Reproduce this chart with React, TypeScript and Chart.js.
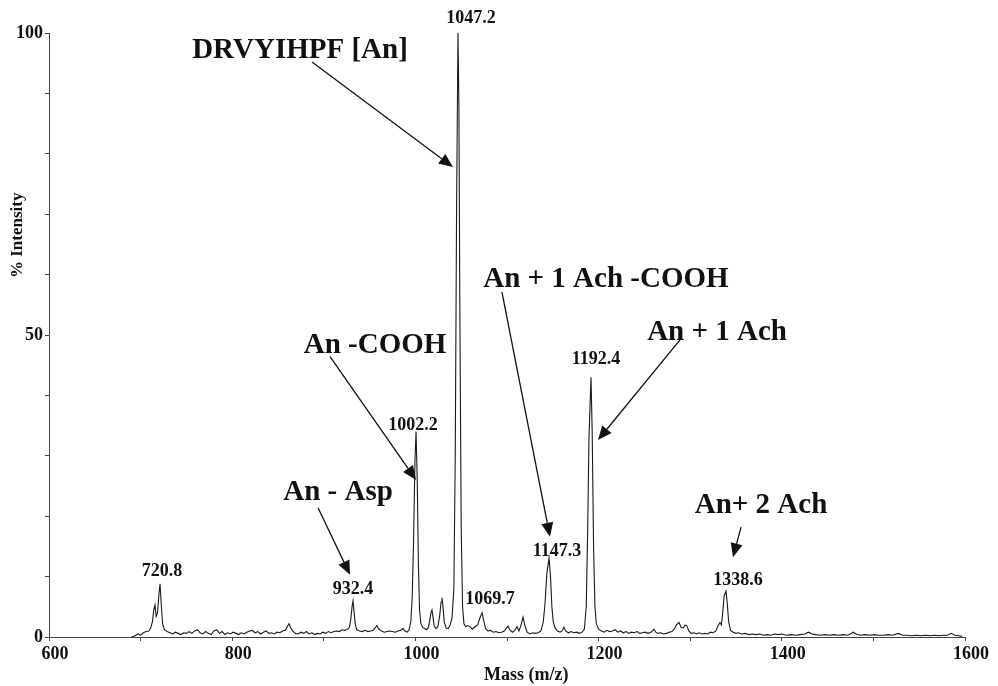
import { useEffect, useRef } from "react";
import { Chart, registerables } from "chart.js";

Chart.register(...registerables);

const FONT = '"Liberation Serif", "Times New Roman", serif';

// Axis ticks
const xTickLabels = ["600", "800", "1000", "1200", "1400", "1600"];
const yTickLabels = ["0", "50", "100"];

// Spectrum: [m/z, % intensity]
const spectrumLow: [number, number][] = [
  [690, 0], [694, 0.2], [697, 0.5], [700, 0.3], [703, 0.7], [706, 0.9], [709, 1.0], [711, 1.5],
  [713, 2.6], [714.5, 4.6], [715.7, 5.3], [717, 3.4], [718.5, 4.0], [720, 7.0], [721.2, 8.8],
  [722.5, 5.5], [724, 2.2], [726, 1.2], [729, 0.9], [732, 0.7], [735, 0.5], [738, 0.8], [741, 0.6],
  [744, 0.4], [747, 0.7], [750, 0.6], [753, 0.9], [756, 0.6], [759, 1.0], [762, 1.2], [765, 0.7],
  [768, 0.5], [771, 0.9], [774, 0.6], [777, 0.4], [780, 1.0], [783, 1.2], [786, 0.6], [789, 0.9],
  [792, 0.4], [795, 0.7], [798, 0.5], [801, 0.8], [804, 0.6], [807, 0.4], [810, 0.7], [813, 0.5],
  [816, 0.8], [819, 1.0], [822, 1.1], [825, 0.7], [828, 0.9], [831, 0.5], [834, 0.8], [837, 1.0],
  [840, 0.6], [843, 0.7], [846, 0.5], [849, 0.8], [852, 0.7], [855, 1.0], [858, 1.1], [860, 1.7],
  [862, 2.2], [864, 1.5], [866, 1.0], [869, 0.6], [872, 0.5], [875, 0.8], [878, 0.6], [881, 0.9],
  [884, 0.5], [887, 0.7], [890, 0.4], [893, 0.6], [896, 0.5], [899, 0.8], [902, 0.6], [905, 0.9],
  [908, 0.7], [911, 0.9], [914, 1.0], [917, 0.9], [920, 1.2], [923, 1.1], [926, 1.3], [928, 1.6],
  [929.5, 3.0], [931, 5.2], [931.9, 6.0], [933, 4.2], [934.5, 2.0], [936, 1.2], [939, 1.0],
  [942, 0.9], [945, 1.1], [948, 0.9], [951, 1.0], [954, 1.1], [956, 1.5], [958, 1.9], [960, 1.3],
  [963, 1.0], [966, 0.8], [969, 0.9], [972, 1.0], [975, 0.9], [978, 0.8], [981, 1.0], [984, 1.1],
  [986.5, 1.4], [988.5, 1.0], [991, 0.8], [993, 1.2],
];

const spectrumMain: [number, number][] = [
  [995, 2.5], [996.5, 6.5], [998, 16], [999.5, 29], [1000.7, 34], [1002, 26], [1003.3, 12],
  [1004.5, 4.5], [1006, 2.2], [1008, 1.6], [1010, 1.4], [1012, 1.2], [1014, 1.5], [1015.5, 2.6],
  [1017, 4.0], [1018.1, 4.5], [1019.2, 3.3], [1020.5, 1.8], [1022.5, 1.4], [1024.5, 1.7],
  [1026.5, 3.5], [1028, 5.8], [1029, 6.5], [1030, 5.2], [1031.5, 2.5], [1033.5, 1.5], [1036, 1.4],
  [1038, 2.0], [1040, 3.2], [1042, 8], [1043.5, 30], [1045, 72], [1046.5, 100], [1047.5, 88],
  [1048.5, 55], [1050, 18], [1051.5, 5], [1053, 2.2], [1055, 1.7], [1057, 1.9], [1059.6, 1.7],
  [1062, 1.3], [1065, 1.7], [1068, 2.0], [1070.5, 3.2], [1072.7, 4.0], [1074.5, 2.8], [1076.5, 1.4],
  [1079, 1.0], [1082, 1.1], [1085, 0.8], [1088, 0.9], [1091, 0.7], [1094, 0.8], [1097, 1.0],
  [1099, 1.4], [1101.1, 1.8], [1103, 1.2], [1106, 0.8], [1108.5, 1.1], [1110.9, 1.7], [1113, 1.0],
  [1115, 1.8], [1117.5, 3.3], [1119.5, 1.9], [1122, 0.8], [1125, 0.5], [1128, 0.7], [1131, 0.6],
  [1134, 0.7], [1137, 1.0], [1139.5, 2.4], [1141.5, 5.5], [1143.5, 10.5], [1145.9, 13.1],
  [1147.5, 10], [1149, 5.0], [1150.5, 2.5], [1152.5, 1.5], [1155, 1.0], [1158, 0.8], [1160, 1.0],
  [1162.2, 1.6], [1164, 1.0], [1167, 0.7], [1170, 0.9], [1173, 0.7], [1176, 0.8], [1179, 0.6],
  [1182, 0.8], [1184.5, 1.3], [1186.5, 5], [1188, 17], [1189.5, 33], [1191.7, 43], [1193, 34],
  [1194.5, 15], [1196, 5], [1197.5, 2.2], [1200, 1.3],
];

const spectrumHigh: [number, number][] = [
  [1203, 1.0], [1206, 0.8], [1209, 1.1], [1212, 0.9], [1215, 1.0], [1218, 1.2], [1221, 0.8],
  [1224, 1.0], [1227, 0.7], [1230, 0.9], [1233, 0.6], [1236, 0.8], [1239, 0.7], [1242, 0.9],
  [1245, 0.6], [1248, 0.7], [1251, 0.8], [1254, 0.6], [1257, 0.8], [1259, 1.0], [1260.5, 1.3],
  [1262.5, 0.8], [1265, 0.6], [1268, 0.7], [1271, 0.5], [1274, 0.6], [1277, 0.8], [1280, 0.9],
  [1282.5, 1.3], [1285, 2.0], [1287.8, 2.4], [1290, 1.6], [1292.5, 1.5], [1294.5, 2.0],
  [1296.5, 1.8], [1298.5, 1.0], [1301, 0.6], [1304, 0.7], [1307, 0.5], [1310, 0.7], [1313, 0.5],
  [1316, 0.6], [1319, 0.5], [1322, 0.8], [1325, 0.7], [1328, 1.0], [1330.5, 1.9], [1332.5, 2.4],
  [1334, 2.0], [1335.5, 4.0], [1337, 6.8], [1339.1, 7.6], [1340.5, 5.5], [1342, 2.5], [1344, 1.1],
  [1347, 0.8], [1350, 0.6], [1353, 0.7], [1356, 0.5], [1360, 0.6], [1364, 0.4], [1368, 0.5],
  [1372, 0.4], [1376, 0.5], [1380, 0.3], [1384, 0.4], [1388, 0.3], [1392, 0.5], [1396, 0.4],
  [1400, 0.5], [1405, 0.3], [1410, 0.4], [1415, 0.3], [1420, 0.4], [1425, 0.5], [1429, 0.8],
  [1433, 0.5], [1437, 0.4], [1442, 0.3], [1447, 0.4], [1452, 0.3], [1457, 0.4], [1462, 0.3],
  [1467, 0.4], [1472, 0.3], [1475, 0.5], [1478, 0.8], [1481, 0.5], [1486, 0.3], [1491, 0.4],
  [1496, 0.3], [1501, 0.4], [1506, 0.3], [1511, 0.3], [1516, 0.4], [1521, 0.3], [1527, 0.6],
  [1532, 0.3], [1537, 0.3], [1542, 0.2], [1547, 0.3], [1552, 0.2], [1557, 0.3], [1562, 0.2],
  [1567, 0.3], [1572, 0.2], [1577, 0.3], [1581, 0.3], [1585, 0.6], [1589, 0.3], [1593, 0.2],
  [1597, 0.1],
];

// Peak mass labels: [text, m/z position, intensity position]
const peakLabels: [string, number, number][] = [
  ["1047.2", 1060.7, 102.5],
  ["1002.2", 997.4, 35.1],
  ["932.4", 931.9, 7.9],
  ["720.8", 723.4, 10.9],
  ["1069.7", 1081.4, 6.3],
  ["1147.3", 1154.6, 14.1],
  ["1192.4", 1197.2, 45.9],
  ["1338.6", 1352.2, 9.3],
];

// Ion assignment labels: [text, m/z centre, intensity baseline]
const ionLabels: [string, number, number][] = [
  ["DRVYIHPF [An]", 874, 95.9],
  ["An -COOH", 956, 47.0],
  ["An - Asp", 915.5, 22.7],
  ["An + 1 Ach -COOH", 1208, 57.9],
  ["An + 1 Ach", 1329.3, 49.2],
  ["An+ 2 Ach", 1377.3, 20.5],
];

// Arrows: [from m/z, from intensity, to m/z, to intensity]
const arrows: [number, number, number, number][] = [
  [887.1, 95.2, 1041.0, 77.8],
  [906.8, 46.4, 1000.7, 26.0],
  [1094.5, 57.1, 1146.9, 16.6],
  [1288.9, 49.2, 1199.3, 32.6],
  [893.7, 21.4, 928.6, 10.3],
  [1355.5, 18.2, 1346.7, 13.2],
];

const xTitle = "Mass (m/z)";
const yTitle = "% Intensity";

const annotationPlugin = {
  id: "spectrumAnnotations",
  afterDatasetsDraw(chart: any) {
    const { ctx, scales, chartArea } = chart;
    const xs = scales.x;
    const ys = scales.y;
    ctx.save();
    ctx.fillStyle = "#111";
    ctx.strokeStyle = "#111";

    ctx.font = `bold 18px ${FONT}`;
    ctx.textAlign = "center";
    ctx.textBaseline = "middle";
    for (const [t, m, i] of peakLabels) {
      ctx.fillText(t, xs.getPixelForValue(m), ys.getPixelForValue(i));
    }

    ctx.font = `bold 29px ${FONT}`;
    ctx.textBaseline = "alphabetic";
    for (const [t, m, i] of ionLabels) {
      ctx.fillText(t, xs.getPixelForValue(m), ys.getPixelForValue(i));
    }

    ctx.lineWidth = 1.3;
    for (const [m1, i1, m2, i2] of arrows) {
      const x1 = xs.getPixelForValue(m1);
      const y1 = ys.getPixelForValue(i1);
      const x2 = xs.getPixelForValue(m2);
      const y2 = ys.getPixelForValue(i2);
      const ang = Math.atan2(y2 - y1, x2 - x1);
      const headLen = 14;
      const headHalf = 6;
      const bx = x2 - headLen * Math.cos(ang);
      const by = y2 - headLen * Math.sin(ang);
      ctx.beginPath();
      ctx.moveTo(x1, y1);
      ctx.lineTo(bx, by);
      ctx.stroke();
      ctx.beginPath();
      ctx.moveTo(x2, y2);
      ctx.lineTo(bx + headHalf * Math.sin(ang), by - headHalf * Math.cos(ang));
      ctx.lineTo(bx - headHalf * Math.sin(ang), by + headHalf * Math.cos(ang));
      ctx.closePath();
      ctx.fill();
    }

    // Axis titles
    ctx.font = `bold 18px ${FONT}`;
    ctx.textBaseline = "middle";
    ctx.fillText(xTitle, xs.getPixelForValue(1121), chartArea.bottom + 38);
    ctx.save();
    ctx.translate(18, ys.getPixelForValue(66.5));
    ctx.rotate(-Math.PI / 2);
    ctx.font = `bold 17px ${FONT}`;
    ctx.fillText(yTitle, 0, 0);
    ctx.restore();

    ctx.restore();
  },
};

export default function App() {
  const canvasRef = useRef<HTMLCanvasElement | null>(null);

  useEffect(() => {
    if (!canvasRef.current) return;
    const points = [...spectrumLow, ...spectrumMain, ...spectrumHigh].map(([m, i]) => ({ x: m, y: i }));
    const chart = new Chart(canvasRef.current, {
      type: "line",
      data: {
        datasets: [
          {
            data: points,
            borderColor: "#1a1a1a",
            borderWidth: 1.1,
            pointRadius: 0,
            tension: 0,
            fill: false,
          },
        ],
      },
      options: {
        animation: false,
        responsive: true,
        maintainAspectRatio: false,
        layout: { padding: { left: 0, top: 33, right: 33, bottom: 0 } },
        plugins: {
          legend: { display: false },
          tooltip: { enabled: false },
          title: { display: false },
        },
        scales: {
          x: {
            type: "linear",
            min: 600,
            max: 1600,
            afterFit: (s: any) => {
              s.height = 49;
            },
            border: { display: true, color: "#444", width: 1 },
            grid: { display: true, drawOnChartArea: false, drawTicks: true, tickLength: 4, color: "#444" },
            ticks: {
              stepSize: 100,
              autoSkip: false,
              maxRotation: 0,
              padding: 3,
              labelOffset: 6,
              color: "#111",
              font: { family: FONT, size: 18, weight: "bold" },
              callback: (v: any) => {
                const s = String(v);
                return xTickLabels.includes(s) ? s : "";
              },
            },
          },
          y: {
            type: "linear",
            min: 0,
            max: 100,
            afterFit: (s: any) => {
              s.width = 49;
            },
            border: { display: true, color: "#444", width: 1 },
            grid: { display: true, drawOnChartArea: false, drawTicks: true, tickLength: 4, color: "#444" },
            ticks: {
              stepSize: 10,
              autoSkip: false,
              padding: 2,
              color: "#111",
              font: { family: FONT, size: 18, weight: "bold" },
              callback: (v: any) => {
                const s = String(v);
                return yTickLabels.includes(s) ? s : "";
              },
            },
          },
        },
      },
      plugins: [annotationPlugin],
    });
    return () => chart.destroy();
  }, []);

  return (
    <div style={{ position: "fixed", left: 0, top: 0, width: 998, height: 686, background: "#fff" }}>
      <canvas ref={canvasRef} />
    </div>
  );
}
